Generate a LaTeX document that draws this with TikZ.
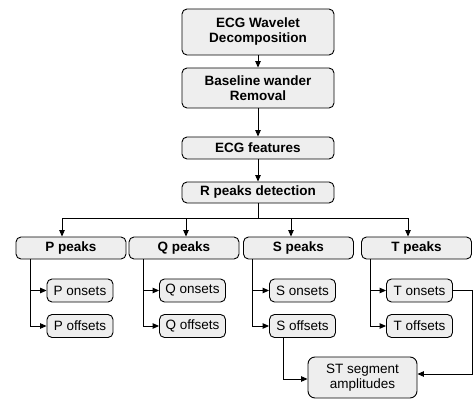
\documentclass[tikz,border=0pt]{standalone}
\usepackage{fontspec}
\setmainfont{Liberation Sans}
\usepackage{tikz}
\usetikzlibrary{arrows.meta,calc}

\begin{document}
\begin{tikzpicture}[x=1pt,y=-1pt,line width=0.9pt,
  box/.style={draw,rounded corners=5pt,fill=gray!13,align=center,inner sep=1pt,
    font=\fontsize{13.5}{15}\selectfont\bfseries},
  sub/.style={box,font=\fontsize{13.5}{15}\selectfont,minimum width=66pt,minimum height=23pt},
  pk/.style={box,minimum width=110pt,minimum height=22pt},
  >={Triangle[length=6.5pt,width=5.5pt]}]
\useasboundingbox (0,0) rectangle (474,401);
% main chain
\node[box,minimum width=152pt,minimum height=46pt] (dec) at (258,32) {ECG Wavelet\\Decomposition};
\node[box,minimum width=152pt,minimum height=40pt] (base) at (258,88) {Baseline wander\\Removal};
\node[box,minimum width=152pt,minimum height=22pt] (feat) at (258,148) {ECG features};
\node[box,minimum width=152pt,minimum height=21pt] (rpk) at (258,192.5) {R peaks detection};
\draw[->] (dec) -- (base);
\draw[->] (base) -- (feat);
\draw[->] (feat) -- (rpk);
% peaks
\node[pk] (ppk) at (71,248) {P peaks};
\node[pk] (qpk) at (184,248) {Q peaks};
\node[pk] (spk) at (298.5,248) {S peaks};
\node[pk] (tpk) at (416.5,248) {T peaks};
\coordinate (bus) at (258,218);
\draw (rpk) -- (bus);
\draw[->] (bus) -| ([xshift=-9pt]ppk.north);
\draw[->] (bus) -| ([xshift=2pt]qpk.north);
\draw[->] (bus) -| ([xshift=-7.5pt]spk.north);
\draw[->] (bus) -| ([xshift=-8.5pt]tpk.north);
% onsets and offsets
\node[sub] (pon) at (80,290.5) {P onsets};
\node[sub] (poff) at (80,326) {P offsets};
\node[sub] (qon) at (192.5,290.5) {Q onsets};
\node[sub] (qoff) at (192.5,326) {Q offsets};
\node[sub] (son) at (302.5,290.5) {S onsets};
\node[sub] (soff) at (302.5,326) {S offsets};
\node[sub] (ton) at (419.5,290.5) {T onsets};
\node[sub] (toff) at (419.5,326) {T offsets};
\draw[->] ([xshift=15pt]ppk.south west) |- (pon);
\draw[->] ([xshift=15pt]ppk.south west) |- (poff);
\draw[->] ([xshift=15pt]qpk.south west) |- (qon);
\draw[->] ([xshift=15pt]qpk.south west) |- (qoff);
\draw[->] ([xshift=9pt]spk.south west) |- (son);
\draw[->] ([xshift=9pt]spk.south west) |- (soff);
\draw[->] ([xshift=9pt]tpk.south west) |- (ton);
\draw[->] ([xshift=9pt]tpk.south west) |- (toff);
% ST segment
\node[sub,minimum width=109pt,minimum height=41pt,rounded corners=7pt] (st) at (362.5,377.5) {ST segment\\amplitudes};
\draw[->] ([xshift=14pt]soff.south west) |- ([yshift=-1.5pt]st.west);
\draw[->] (ton.east) -- ++(19,0) |- ([yshift=3.5pt]st.east);
\end{tikzpicture}
\end{document}
